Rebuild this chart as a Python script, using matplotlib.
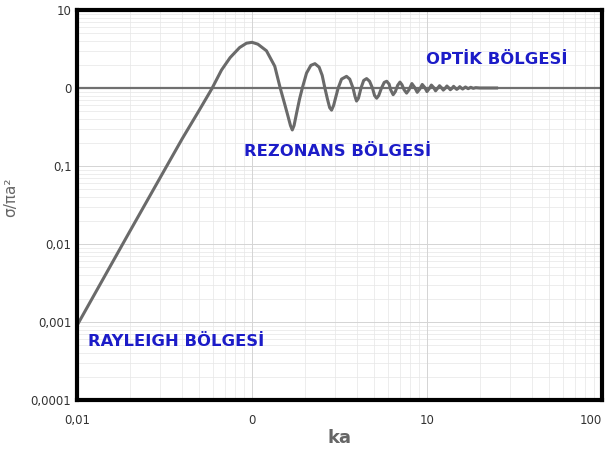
import matplotlib
matplotlib.use('Agg')
import matplotlib.pyplot as plt

# values (ka, sigma / pi a^2)
ka = [0.1, 0.2, 0.3, 0.4, 0.5, 0.59, 0.67, 0.75, 0.85, 0.93,
      1.0, 1.08, 1.21, 1.35, 1.45, 1.53, 1.6, 1.66, 1.70, 1.74,
      1.80, 1.87, 1.94, 2.05, 2.17, 2.29, 2.42, 2.52, 2.61, 2.70,
      2.78, 2.85, 2.93, 3.02, 3.11, 3.25, 3.47, 3.62, 3.78, 3.88,
      3.96, 4.06, 4.2, 4.35, 4.52, 4.7, 4.88, 5.02, 5.16, 5.3,
      5.5, 5.7, 5.89, 6.08, 6.2, 6.41, 6.6, 6.8, 7.01, 7.2,
      7.4, 7.65, 7.9, 8.2, 8.5, 8.8, 9.1, 9.4, 9.7, 10.0,
      10.3, 10.6, 10.9, 11.2, 11.5, 11.8, 12.1, 12.4, 12.7, 13.0,
      13.3, 13.6, 13.9, 14.2, 14.5, 14.8, 15.1, 15.4, 15.7, 16.0,
      16.6, 17.2, 17.8, 18.4, 19.0, 20.0, 25.0]
rcs = [0.0009, 0.0144, 0.072, 0.225, 0.52, 0.98, 1.7, 2.45, 3.3, 3.75,
       3.85, 3.65, 3.0, 1.9, 1.0, 0.65, 0.45, 0.33, 0.29, 0.33,
       0.48, 0.72, 1.0, 1.55, 1.95, 2.05, 1.85, 1.45, 1.0, 0.72,
       0.56, 0.52, 0.6, 0.78, 1.0, 1.3, 1.41, 1.3, 1.0, 0.78,
       0.68, 0.74, 1.0, 1.25, 1.32, 1.22, 1.0, 0.8, 0.74, 0.8,
       1.0, 1.18, 1.22, 1.12, 0.95, 0.82, 0.9, 1.08, 1.19, 1.1,
       0.95, 0.86, 0.95, 1.14, 1.02, 0.88, 0.97, 1.11, 1.02, 0.9,
       0.98, 1.09, 1.02, 0.92, 0.99, 1.07, 1.01, 0.94, 0.99, 1.06,
       1.01, 0.95, 0.99, 1.05, 1.0, 0.96, 0.99, 1.04, 1.0, 0.97,
       1.03, 0.98, 1.02, 0.99, 1.01, 1.0, 1.0]

xticks = [0.1, 1, 10, 100]
xlabels = ['0,01', '0', '10', '100']
yticks = [1e-4, 1e-3, 1e-2, 1e-1, 1, 10]
ylabels = ['0,0001', '0,001', '0,01', '0,1', '0', '10']

regions = ['OPTİK BÖLGESİ', 'REZONANS BÖLGESİ', 'RAYLEIGH BÖLGESİ']

fig = plt.figure(figsize=(6.09, 4.50), dpi=100)
ax = fig.add_axes([0.1264, 0.1111, 0.862, 0.8667])
ax.set_xscale('log')
ax.set_yscale('log')
ax.set_xlim(0.1, 100)
ax.set_ylim(1e-4, 10)

ax.axhline(1, color='#707070', lw=1.6)
ax.plot(ka, rcs, color='#6a6a6a', lw=2.2, solid_joinstyle='round')

ax.set_xticks(xticks)
ax.set_xticklabels(xlabels)
ax.set_yticks(yticks)
ax.set_yticklabels(ylabels)
ax.get_xticklabels()[-1].set_horizontalalignment('right')
ax.minorticks_off()
ax.grid(True, which='major', color='#d4d4d4', lw=0.7)
ax.set_axisbelow(True)
ax.tick_params(length=0, labelsize=8.5, colors='#333333')
ax.tick_params(axis='x', pad=10)
ax.tick_params(axis='y', pad=4)
for s in ax.spines.values():
    s.set_linewidth(3)
    s.set_color('black')

# extra light lines for the log grid inside each decade
for d in [0.1, 1, 10]:
    for m in range(2, 10):
        ax.axvline(d * m, color='#e6e6e6', lw=0.5, zorder=0)
for d in [1e-4, 1e-3, 1e-2, 1e-1, 1]:
    for m in range(2, 10):
        ax.axhline(d * m, color='#e6e6e6', lw=0.5, zorder=0)

ax.set_xlabel('ka', fontsize=13, color='#666666', fontweight='bold')
ax.xaxis.set_label_coords(0.5, -0.075)
ax.set_ylabel('σ/πa²', fontsize=11, color='#666666')
ax.yaxis.set_label_coords(-0.112, 0.52)

blue = '#1c1cc8'
ax.text(0.80, 0.872, regions[0], transform=ax.transAxes, color=blue,
        fontsize=11.8, fontweight='bold', ha='center', va='center')
ax.text(0.497, 0.636, regions[1], transform=ax.transAxes, color=blue,
        fontsize=11.8, fontweight='bold', ha='center', va='center')
ax.text(0.189, 0.149, regions[2], transform=ax.transAxes, color=blue,
        fontsize=11.8, fontweight='bold', ha='center', va='center')

fig.savefig('out.png', dpi=100)
